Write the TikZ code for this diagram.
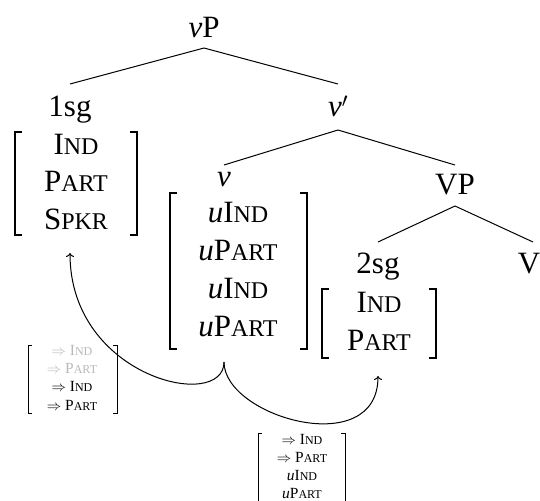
\documentclass[tikz,border=0pt]{standalone}
\usepackage{fontspec}
\setmainfont{Liberation Serif}
\usetikzlibrary{arrows.meta}
\newcommand\bigf{\fontsize{31}{37}\selectfont\def\scz{\fontsize{24}{24}\selectfont}}
\newcommand\smallf{\fontsize{15.5}{18}\selectfont\def\scz{\fontsize{12}{12}\selectfont}}
\newcommand\SC[2]{#1{\scz #2}}
\newcommand\brk[6][]{%
  \draw[#1] (#2+#6,#4)--(#2,#4)--(#2,#5)--(#2+#6,#5);
  \draw[#1] (#3-#6,#4)--(#3,#4)--(#3,#5)--(#3-#6,#5);}
\tikzset{
  lbl/.style={font=\bigf, inner sep=0pt, anchor=base},
  row/.style={font=\bigf, inner sep=0pt, anchor=base},
  srow/.style={font=\smallf, inner sep=0pt, anchor=base},
  faint/.style={text=black!28},
  tree/.style={line width=1pt},
  bbrk/.style={line width=1.6pt, miter limit=10},
  sbrk/.style={line width=0.9pt},
  mv/.style={line width=1pt, -{To[length=4pt,width=8pt]}},
}
\begin{document}
\begin{tikzpicture}[x=1pt,y=-1pt]
\useasboundingbox (0,0) rectangle (540,500);
\clip (0,0) rectangle (540,500);
% tree labels
\node[lbl] (vP) at (204,38) {\textit{v}P};
\node[lbl] (onesg) at (70,117) {1sg};
\node[lbl] (vbar) at (338,117) {\textit{v}$'$};
\node[lbl] (v) at (224,186) {\textit{v}};
\node[lbl] (VP) at (455,194) {VP};
\node[lbl] (twosg) at (378,273) {2sg};
\node[lbl] (V) at (529,273) {V};
% tree branches
\draw[tree] ([yshift=-10pt]vP.base) -- ([yshift=33pt]onesg.base);
\draw[tree] ([yshift=-10pt]vP.base) -- ([yshift=33pt]vbar.base);
\draw[tree] ([yshift=-13pt]vbar.base) -- ([yshift=21pt]v.base);
\draw[tree] ([yshift=-13pt]vbar.base) -- ([yshift=29pt]VP.base);
\draw[tree] ([yshift=-12pt]VP.base) -- ([yshift=31pt]twosg.base);
\draw[tree] ([yshift=-12pt]VP.base) -- ([xshift=4pt,yshift=31pt]V.base);
% 1sg features
\node[row] (a1) at (76,154) {\SC{I}{ND}};
\node[row] (a2) at (76,191.5) {\SC{P}{ART}};
\node[row] (a3) at (76,229) {\SC{S}{PKR}};
\brk[bbrk]{15}{137}{132}{235}{7}
% v features
\node[row] (b1) at (238,222) {\textit{u}\SC{I}{ND}};
\node[row] (b2) at (238,260) {\textit{u}\SC{P}{ART}};
\node[row] (b3) at (238,298) {\textit{u}\SC{I}{ND}};
\node[row] (b4) at (238,336) {\textit{u}\SC{P}{ART}};
\brk[bbrk]{170}{307}{193}{349}{7}
% 2sg features
\node[row] (c1) at (379,312) {\SC{I}{ND}};
\node[row] (c2) at (379,350) {\SC{P}{ART}};
\brk[bbrk]{322}{436}{289}{358}{7}
% small left matrix
\node[srow,faint] (d1) at (72,355) {$\Rightarrow$ \SC{I}{ND}};
\node[srow,faint] (d2) at (72,373.3) {$\Rightarrow$ \SC{P}{ART}};
\node[srow] (d3) at (72,391.6) {$\Rightarrow$ \SC{I}{ND}};
\node[srow] (d4) at (72,410) {$\Rightarrow$ \SC{P}{ART}};
\brk[sbrk]{28}{117}{345}{413}{4}
% small bottom matrix
\node[srow] (e1) at (302,444.5) {$\Rightarrow$ \SC{I}{ND}};
\node[srow] (e2) at (302,462.5) {$\Rightarrow$ \SC{P}{ART}};
\node[srow] (e3) at (302,480.5) {\textit{u}\SC{I}{ND}};
\node[srow] (e4) at (302,498) {\textit{u}\SC{P}{ART}};
\brk[sbrk]{258}{345}{433}{517}{4}
% movement arrows
\coordinate (vfoot) at (224,362);
\coordinate (onefoot) at (70,253);
\coordinate (twofoot) at (378,376);
\draw[mv] (vfoot) .. controls +(0,50) and +(0,125) .. (onefoot);
\draw[mv] (vfoot) .. controls +(0,55) and +(0,85) .. (twofoot);
\end{tikzpicture}
\end{document}
